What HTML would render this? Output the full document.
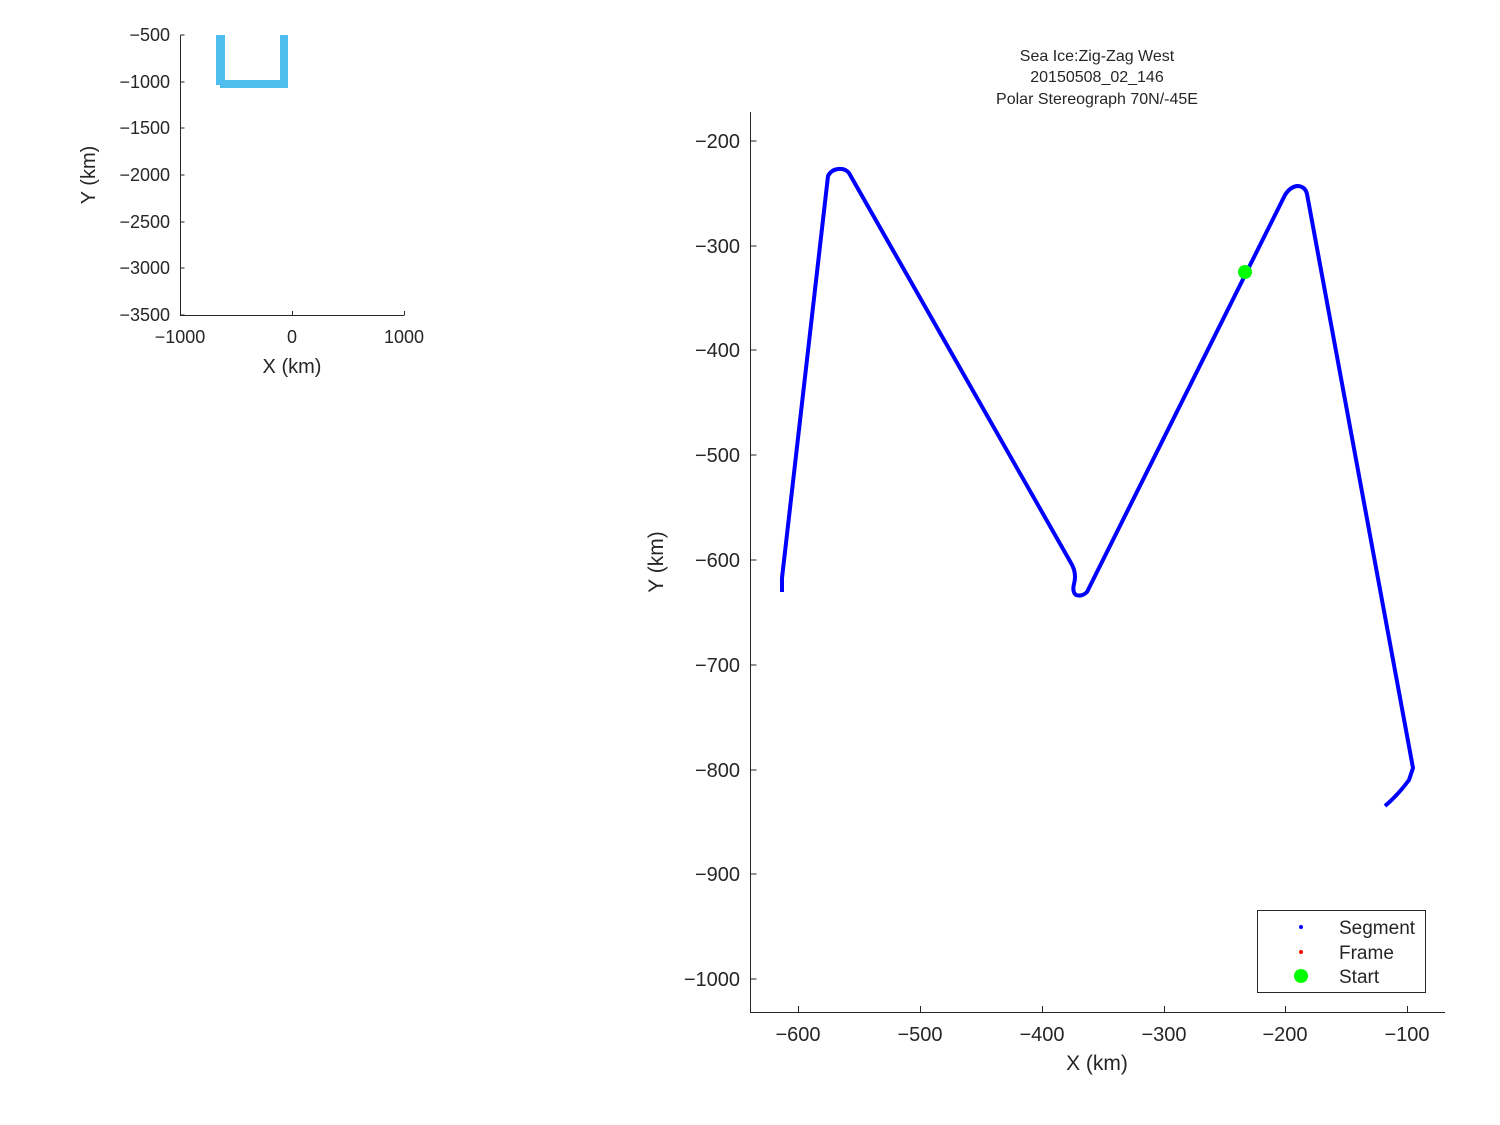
<!DOCTYPE html>
<html><head><style>body{margin:0;background:#fff}svg{display:block}text{font-family:"Liberation Sans",sans-serif;fill:#262626}</style></head><body>
<svg width="1500" height="1125" viewBox="0 0 1500 1125">
<!-- inset -->
<g fill="#4DBEEE">
<rect x="216" y="35" width="9" height="50"/>
<rect x="280" y="35" width="8" height="53"/>
<rect x="220" y="80" width="68" height="8"/>
</g>
<g stroke="#262626" stroke-width="1" fill="none">
<path d="M180.5 35V315.5H404.5"/>
<path d="M180.5 35h4M180.5 82h4M180.5 128h4M180.5 175h4M180.5 222h4M180.5 268h4M180.5 315h4"/>
<path d="M180.5 315v-4M292.5 315v-4M404.5 315v-4"/>
</g>
<g font-size="18" text-anchor="end">
<text x="170" y="41">−500</text><text x="170" y="88">−1000</text><text x="170" y="134">−1500</text><text x="170" y="181">−2000</text><text x="170" y="228">−2500</text><text x="170" y="274">−3000</text><text x="170" y="321">−3500</text>
</g>
<g font-size="18" text-anchor="middle">
<text x="180" y="343">−1000</text><text x="292" y="343">0</text><text x="404" y="343">1000</text>
<text x="292" y="373" font-size="20">X (km)</text>
<text transform="translate(95,175) rotate(-90)" font-size="20">Y (km)</text>
</g>
<!-- main -->
<g font-size="16" text-anchor="middle">
<text x="1097" y="61">Sea Ice:Zig-Zag West</text>
<text x="1097" y="82">20150508_02_146</text>
<text x="1097" y="104">Polar Stereograph 70N/-45E</text>
</g>
<g stroke="#262626" stroke-width="1" fill="none">
<path d="M750.5 112V1012.5H1445"/>
<path d="M750.5 141h6M750.5 246h6M750.5 350h6M750.5 455h6M750.5 560h6M750.5 665h6M750.5 770h6M750.5 874h6M750.5 979h6"/>
<path d="M798.5 1012v-6M920.5 1012v-6M1042.5 1012v-6M1164.5 1012v-6M1285.5 1012v-6M1407.5 1012v-6"/>
</g>
<g font-size="20" text-anchor="end">
<text x="740" y="148">−200</text><text x="740" y="253">−300</text><text x="740" y="357">−400</text><text x="740" y="462">−500</text><text x="740" y="567">−600</text><text x="740" y="672">−700</text><text x="740" y="777">−800</text><text x="740" y="881">−900</text><text x="740" y="986">−1000</text>
</g>
<g font-size="20" text-anchor="middle">
<text x="798" y="1041">−600</text><text x="920" y="1041">−500</text><text x="1042" y="1041">−400</text><text x="1164" y="1041">−300</text><text x="1285" y="1041">−200</text><text x="1407" y="1041">−100</text>
<text x="1097" y="1070" font-size="21">X (km)</text>
<text transform="translate(663,562) rotate(-90)" font-size="21">Y (km)</text>
</g>
<path d="M782 592L782 578L828 176Q831 170 838 169Q845 168 849 173L1071 563Q1077 573 1074 584Q1072 592 1076 595Q1082 597 1087 592L1285 195Q1290 187 1297 186Q1305 186 1307 194L1413 768L1409 780Q1398 795 1385 806" fill="none" stroke="#0000ff" stroke-width="4" stroke-linejoin="round"/>
<circle cx="1245" cy="272" r="7" fill="#00ff00"/>
<rect x="1257.5" y="910.5" width="168" height="82" fill="#fff" stroke="#262626"/>
<circle cx="1301" cy="927" r="2" fill="#0000ff"/>
<circle cx="1301" cy="952" r="2" fill="#ff0000"/>
<circle cx="1301" cy="976" r="7" fill="#00ff00"/>
<g font-size="19">
<text x="1339" y="934">Segment</text><text x="1339" y="959">Frame</text><text x="1339" y="983">Start</text>
</g>
</svg>
</body></html>
